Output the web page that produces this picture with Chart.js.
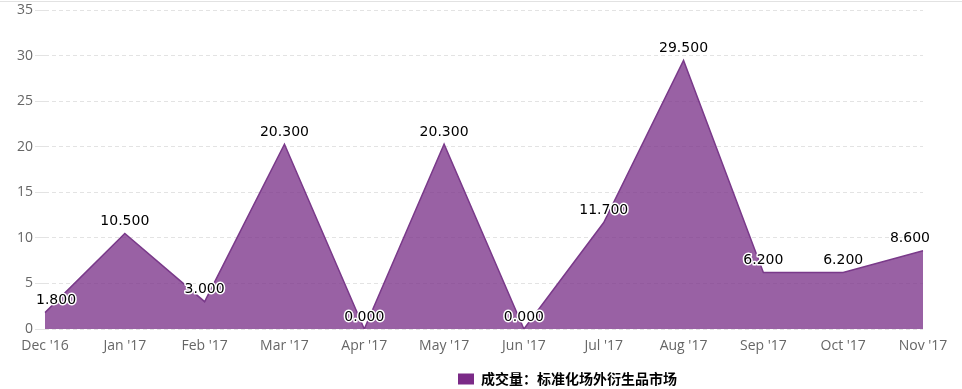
<!DOCTYPE html>
<html>
<head>
<meta charset="utf-8">
<script src="https://cdn.jsdelivr.net/npm/chart.js@4"></script>
<style>
  html, body { margin: 0; padding: 0; background: #fff; }
  #wrap { width: 962px; height: 389px; position: relative; }
</style>
</head>
<body>
<div id="wrap"><canvas id="chart"></canvas></div>
<script>
// categorias e valores
const months = ["Dec '16", "Jan '17", "Feb '17", "Mar '17", "Apr '17", "May '17", "Jun '17", "Jul '17", "Aug '17", "Sep '17", "Oct '17", "Nov '17"];
const volume = [1.8, 10.5, 3.0, 20.3, 0.0, 20.3, 0.0, 11.7, 29.5, 6.2, 6.2, 8.6];
const yTicks = [0, 5, 10, 15, 20, 25, 30, 35];
const seriesName = '成交量：标准化场外衍生品市场';

// rótulos de valor acima de cada ponto (contorno branco)
const valueLabels = {
  id: 'valueLabels',
  afterDatasetsDraw(chart) {
    const ctx = chart.ctx;
    const meta = chart.getDatasetMeta(0);
    const area = chart.chartArea;
    ctx.save();
    ctx.font = '14px "DejaVu Sans"';
    ctx.textAlign = 'center';
    ctx.textBaseline = 'middle';
    ctx.lineJoin = 'round';
    meta.data.forEach((pt, i) => {
      const txt = volume[i].toFixed(3);
      const w = ctx.measureText(txt).width;
      let x = pt.x;
      x = Math.max(x, area.left - 9 + w / 2);
      x = Math.min(x, area.right + 7 - w / 2);
      const y = pt.y - 12;
      ctx.strokeStyle = '#fff';
      ctx.lineWidth = 3;
      ctx.strokeText(txt, x, y);
      ctx.fillStyle = '#000';
      ctx.fillText(txt, x, y);
    });
    ctx.restore();
  }
};

// legenda deslocada para a direita + linha fina no topo
const frameTweaks = {
  id: 'frameTweaks',
  afterLayout(chart) {
    if (chart.legend) {
      chart.legend.left += 106;
      chart.legend.right += 106;
    }
  },
  beforeDraw(chart) {
    const ctx = chart.ctx;
    ctx.save();
    ctx.strokeStyle = '#e2e2e2';
    ctx.lineWidth = 1;
    ctx.beginPath();
    ctx.moveTo(0, 1.5);
    ctx.lineTo(chart.width, 1.5);
    ctx.stroke();
    ctx.restore();
  }
};

const ctx = document.getElementById('chart').getContext('2d');
const myChart = new Chart(ctx, {
  type: 'line',
  data: {
    labels: months,
    datasets: [{
      label: seriesName,
      data: volume,
      fill: 'origin',
      backgroundColor: 'rgba(124, 52, 138, 0.78)',
      borderColor: '#7a3a8a',
      borderWidth: 1.5,
      pointRadius: 0,
      tension: 0
    }]
  },
  options: {
    responsive: true,
    maintainAspectRatio: false,
    animation: false,
    layout: { padding: { top: 9, right: 39, bottom: -7, left: 0 } },
    scales: {
      x: {
        offset: false,
        grid: { display: false },
        border: { display: false },
        ticks: {
          color: '#666',
          font: { family: '"Open Sans"', size: 14 },
          maxRotation: 0,
          autoSkip: false,
          padding: 1
        },
        afterFit(scale) { scale.height = 40; }
      },
      y: {
        min: 0,
        max: 35,
        afterBuildTicks(scale) { scale.ticks = yTicks.map(v => ({ value: v })); },
        grid: {
          color: '#e3e3e3',
          tickLength: 10,
          tickColor: '#e3e3e3'
        },
        border: { display: false, dash: [4, 3] },
        ticks: {
          color: '#666',
          font: { family: '"Open Sans"', size: 14 },
          padding: 2
        },
        afterFit(scale) { scale.width = 45; }
      }
    },
    plugins: {
      legend: {
        position: 'bottom',
        labels: {
          boxWidth: 16,
          boxHeight: 11,
          padding: 3,
          color: '#555',
          font: { family: '"Noto Sans CJK SC"', size: 14, weight: 'bold' },
          generateLabels(chart) {
            return [{
              text: seriesName,
              fillStyle: '#7b2a87',
              strokeStyle: '#7b2a87',
              lineWidth: 0,
              datasetIndex: 0
            }];
          }
        }
      },
      tooltip: { enabled: false }
    }
  },
  plugins: [valueLabels, frameTweaks]
});
</script>
</body>
</html>
